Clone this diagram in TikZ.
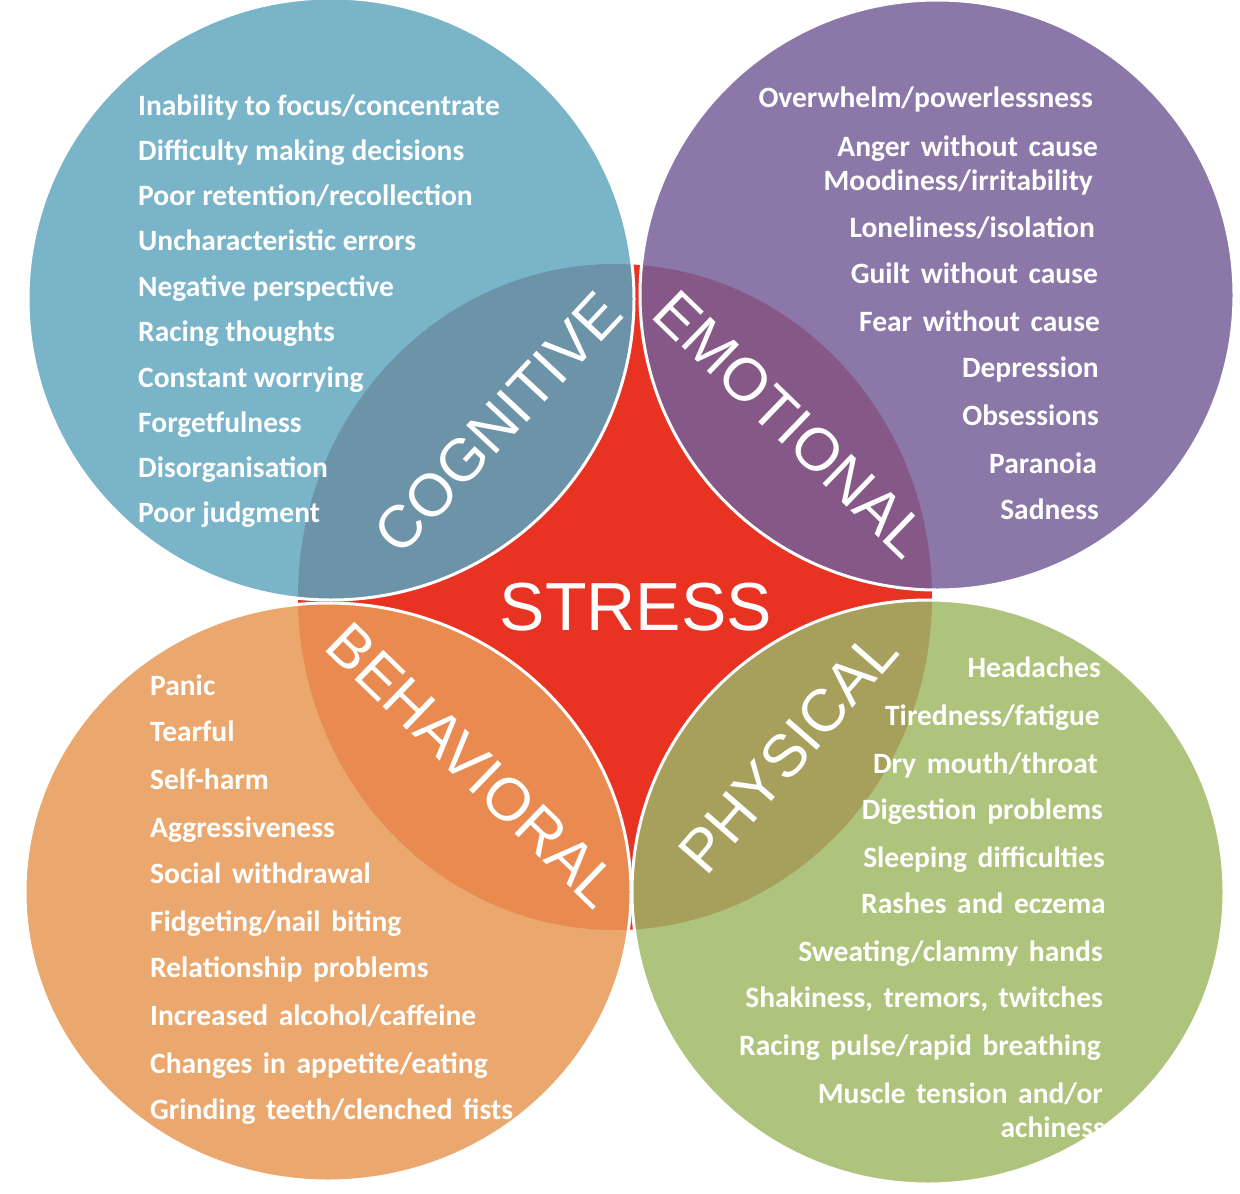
\documentclass[tikz,border=0pt]{standalone}
\usepackage{fontspec}
\setmainfont{Carlito}
\newfontfamily\labelfont{Liberation Sans}
\newcommand\widespc{\spaceskip 0.36em\relax}
\definecolor{stressred}{HTML}{E83323}
\definecolor{cogL}{HTML}{7AB4C9}
\definecolor{cogD}{HTML}{6D93A9}
\definecolor{emoL}{HTML}{8B77A8}
\definecolor{emoD}{HTML}{865888}
\definecolor{behL}{HTML}{EBA86E}
\definecolor{behD}{HTML}{E98A50}
\definecolor{phyL}{HTML}{AEC47C}
\definecolor{phyD}{HTML}{A6A05C}
\begin{document}
\begin{tikzpicture}[x=1pt,y=-1pt,
  item/.style={text=white,inner sep=0pt},
  cogitem/.style={item,anchor=base west,font=\fontsize{29.5}{29.5}\selectfont\bfseries},
  emoitem/.style={item,anchor=base east,font=\fontsize{29.5}{29.5}\selectfont\bfseries\widespc},
  behitem/.style={item,anchor=base west,font=\fontsize{29.5}{29.5}\selectfont\bfseries\widespc},
  phyitem/.style={item,anchor=base east,font=\fontsize{29.5}{29.5}\selectfont\bfseries\widespc},
  biglabel/.style={text=white,font=\labelfont\fontsize{60}{60}\selectfont,inner sep=0pt},
  ring/.style={draw=white,line width=3pt}]
\useasboundingbox (0,0) rectangle (1240,1194);
% central stress area
\fill[stressred] (615,597) ellipse[x radius=317,y radius=333];
% outer circles
\fill[cogL] (331,299) ellipse[x radius=303,y radius=301];
\fill[emoL] (937,295) ellipse[x radius=297,y radius=295];
\fill[behL] (328,892) ellipse[x radius=303,y radius=289];
\fill[phyL] (928,892) ellipse[x radius=296,y radius=292];
% lenses
\begin{scope}
\clip (331,299) ellipse[x radius=303,y radius=301];
\fill[cogD] (615,597) ellipse[x radius=317,y radius=333];
\end{scope}
\begin{scope}
\clip (937,295) ellipse[x radius=297,y radius=295];
\fill[emoD] (615,597) ellipse[x radius=317,y radius=333];
\end{scope}
\begin{scope}
\clip (328,892) ellipse[x radius=303,y radius=289];
\fill[behD] (615,597) ellipse[x radius=317,y radius=333];
\end{scope}
\begin{scope}
\clip (928,892) ellipse[x radius=296,y radius=292];
\fill[phyD] (615,597) ellipse[x radius=317,y radius=333];
\end{scope}
% white rims
\draw[ring] (331,299) ellipse[x radius=303,y radius=301];
\draw[ring] (937,295) ellipse[x radius=297,y radius=295];
\draw[ring] (328,892) ellipse[x radius=303,y radius=289];
\draw[ring] (928,892) ellipse[x radius=296,y radius=292];
% big labels
\node[biglabel,font=\labelfont\fontsize{68}{68}\selectfont] (stress) at (636,607) {STRESS};
\node[biglabel,rotate=47] (cog) at (498,423) {COGNITIVE};
\node[biglabel,rotate=-44] (emo) at (791,424) {EMOTIONAL};
\node[biglabel,rotate=-44] (beh) at (473,765) {BEHAVIORAL};
\node[biglabel,rotate=49] (phy) at (788,752) {PHYSICAL};
% cognitive list
\node[cogitem] (c1) at (138,115) {Inability to focus/concentrate};
\node[cogitem] (c2) at (138,160) {Difficulty making decisions};
\node[cogitem] (c3) at (138,205) {Poor retention/recollection};
\node[cogitem] (c4) at (138,250) {Uncharacteristic errors};
\node[cogitem] (c5) at (138,296) {Negative perspective};
\node[cogitem] (c6) at (138,341) {Racing thoughts};
\node[cogitem] (c7) at (138,387) {Constant worrying};
\node[cogitem] (c8) at (138,432) {Forgetfulness};
\node[cogitem] (c9) at (138,477) {Disorganisation};
\node[cogitem] (c10) at (138,522) {Poor judgment};
% emotional list
\node[emoitem] (e1) at (1093,107) {Overwhelm/powerlessness};
\node[emoitem] (e2) at (1098,156) {Anger without cause};
\node[emoitem] (e3) at (1093,190) {Moodiness/irritability};
\node[emoitem] (e4) at (1095,237) {Loneliness/isolation};
\node[emoitem] (e5) at (1098,283) {Guilt without cause};
\node[emoitem] (e6) at (1100,331) {Fear without cause};
\node[emoitem] (e7) at (1099,377) {Depression};
\node[emoitem] (e8) at (1099,425) {Obsessions};
\node[emoitem] (e9) at (1097,473) {Paranoia};
\node[emoitem] (e10) at (1099,519) {Sadness};
% behavioral list
\node[behitem] (b1) at (150,695) {Panic};
\node[behitem] (b2) at (150,741) {Tearful};
\node[behitem] (b3) at (150,789) {Self-harm};
\node[behitem] (b4) at (150,837) {Aggressiveness};
\node[behitem] (b5) at (150,883) {Social withdrawal};
\node[behitem] (b6) at (150,931) {Fidgeting/nail biting};
\node[behitem] (b7) at (150,977) {Relationship problems};
\node[behitem] (b8) at (150,1025) {Increased alcohol/caffeine};
\node[behitem] (b9) at (150,1073) {Changes in appetite/eating};
\node[behitem] (b10) at (150,1119) {Grinding teeth/clenched fists};
% physical list
\node[phyitem] (p1) at (1101,677) {Headaches};
\node[phyitem] (p2) at (1100,725) {Tiredness/fatigue};
\node[phyitem] (p3) at (1098,773) {Dry mouth/throat};
\node[phyitem] (p4) at (1103,819) {Digestion problems};
\node[phyitem] (p5) at (1105,867) {Sleeping difficulties};
\node[phyitem] (p6) at (1106,913) {Rashes and eczema};
\node[phyitem] (p7) at (1103,961) {Sweating/clammy hands};
\node[phyitem] (p8) at (1103,1007) {Shakiness, tremors, twitches};
\node[phyitem] (p9) at (1101,1055) {Racing pulse/rapid breathing};
\node[phyitem] (p10) at (1103,1103) {Muscle tension and/or};
\node[phyitem] (p11) at (1105,1137) {achiness};
\end{tikzpicture}
\end{document}
